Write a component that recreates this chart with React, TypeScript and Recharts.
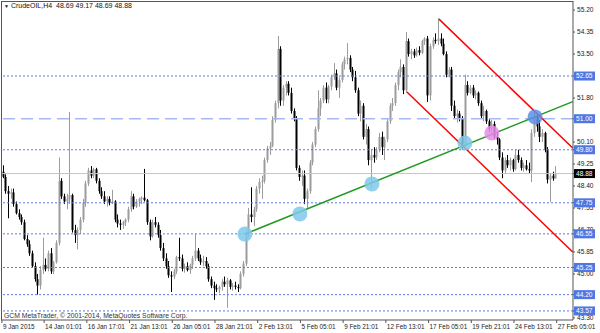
import React from 'react';
import {
  ComposedChart, Bar, XAxis, YAxis, ReferenceLine, ReferenceDot,
} from 'recharts';

// CrudeOIL H4 candles, 9 Jan - 27 Feb 2015
const openPrices = [
  48.95, 48.75, 48.2, 48.1, 48.15, 47.7, 47.35, 47.2, 47.0, 46.35, 46.15, 45.8, 45.3, 44.8, 44.55, 45.15, 45.35, 45.2, 45.8, 45.1,
  45.45, 46.2, 48.6, 48.0, 47.8, 47.9, 48.05, 46.7, 46.5, 46.7, 47.1, 47.75, 48.5, 49.0, 48.8, 49.05, 48.6, 48.2, 48.0, 47.8,
  47.9, 47.75, 47.8, 47.1, 46.95, 46.9, 47.0, 47.1, 47.5, 48.0, 47.6, 47.8, 47.9, 47.95, 47.85, 47.0, 46.45, 47.0, 46.9, 46.5,
  46.0, 45.6, 45.3, 44.95, 44.9, 45.1, 45.65, 45.6, 45.2, 45.3, 45.15, 45.35, 45.6, 45.9, 45.6, 45.45, 45.5, 45.3, 44.8, 44.55,
  44.45, 44.4, 44.5, 44.7, 44.6, 44.75, 44.5, 44.55, 44.5, 44.45, 45.0, 45.4, 46.55, 47.3, 47.2, 47.5, 48.3, 48.55, 48.6, 49.4,
  49.85, 49.95, 50.95, 51.6, 53.7, 51.7, 52.2, 52.35, 52.0, 51.3, 51.0, 49.1, 48.75, 48.8, 47.9, 48.2, 49.3, 50.0, 50.6, 51.4,
  51.7, 52.2, 51.75, 52.25, 52.6, 52.75, 52.2, 52.5, 53.1, 53.3, 53.35, 52.9, 52.6, 52.1, 51.2, 51.5, 50.3, 50.6, 49.4, 49.6,
  49.5, 49.8, 50.3, 49.9, 50.2, 50.9, 51.5, 51.6, 52.3, 52.8, 53.0, 52.1, 54.0, 53.5, 53.6, 53.45, 53.65, 53.55, 54.0, 54.1,
  51.9, 53.8, 54.05, 54.0, 54.1, 53.9, 53.5, 52.7, 52.9, 51.5, 51.1, 51.2, 51.0, 50.0, 52.3, 52.0, 52.2, 51.9, 52.0, 51.6,
  51.1, 51.3, 50.9, 50.6, 50.8, 50.3, 50.2, 49.5, 49.0, 49.4, 49.2, 49.4, 49.05, 49.6, 49.4, 49.1, 49.2, 49.05, 49.0, 50.45,
  51.1, 50.7, 50.3, 50.45, 49.8, 48.65, 48.8, 48.69,
];
const highPrices = [
  49.2, 48.85, 48.4, 48.3, 48.3, 47.8, 47.5, 47.3, 47.1, 46.5, 46.3, 45.9, 45.45, 45.0, 45.3, 46.4, 45.6, 45.9, 46.0, 45.5,
  46.3, 49.5, 48.7, 48.1, 48.1, 51.26, 48.1, 46.9, 46.8, 47.2, 47.9, 48.6, 49.1, 49.17, 49.1, 49.1, 48.7, 48.35, 48.2, 48.0,
  48.0, 48.25, 47.85, 47.3, 47.1, 47.05, 47.15, 47.6, 48.2, 48.1, 47.9, 47.95, 48.0, 49.06, 47.9, 47.1, 47.1, 47.2, 47.0, 46.7,
  46.2, 45.8, 45.5, 45.1, 45.2, 45.7, 46.4, 45.75, 45.4, 45.45, 45.4, 45.7, 46.55, 46.0, 45.75, 45.7, 45.65, 45.4, 44.9, 44.7,
  44.6, 44.55, 44.8, 44.9, 44.85, 44.8, 44.65, 44.7, 44.6, 45.1, 45.5, 46.65, 47.55, 48.35, 47.6, 48.4, 48.7, 48.8, 49.5, 49.95,
  50.1, 51.1, 51.7, 54.2, 53.8, 52.3, 52.45, 52.45, 52.2, 51.4, 51.1, 49.2, 49.0, 49.0, 48.3, 49.4, 50.1, 50.7, 52.1, 51.8,
  52.3, 52.4, 52.3, 52.7, 53.15, 52.9, 52.6, 53.2, 53.4, 53.92, 53.45, 53.0, 52.85, 52.2, 51.7, 51.6, 50.8, 50.7, 49.8, 49.9,
  49.9, 50.45, 50.5, 50.3, 51.0, 51.6, 51.8, 52.4, 52.9, 53.3, 53.1, 54.35, 54.1, 53.7, 53.7, 53.75, 53.8, 54.05, 54.15, 54.2,
  53.9, 54.15, 54.3, 54.89, 54.3, 54.1, 53.6, 53.0, 53.0, 51.7, 51.35, 51.3, 51.1, 52.7, 52.45, 52.3, 52.3, 52.1, 52.05, 51.7,
  51.5, 51.35, 51.0, 50.95, 50.9, 50.5, 50.25, 49.7, 49.5, 49.6, 49.5, 49.45, 49.8, 49.8, 49.5, 49.3, 49.4, 49.3, 50.6, 51.25,
  51.2, 50.95, 50.6, 50.5, 49.9, 48.9, 48.95, 49.17,
];
const lowPrices = [
  48.7, 48.1, 47.15, 47.9, 47.6, 47.3, 47.1, 46.9, 46.3, 46.05, 45.7, 45.25, 44.7, 44.2, 44.4, 45.0, 45.1, 45.1, 45.0, 45.0,
  45.4, 46.1, 47.9, 47.7, 47.5, 47.7, 46.6, 46.2, 45.95, 46.55, 47.0, 47.6, 48.4, 48.7, 48.7, 48.5, 48.1, 47.9, 47.7, 47.6,
  47.65, 47.7, 47.0, 46.8, 46.7, 46.75, 46.85, 47.0, 47.4, 47.5, 47.55, 47.6, 47.7, 47.8, 46.9, 46.3, 46.4, 46.8, 46.4, 45.9,
  45.5, 45.2, 44.85, 44.3, 44.8, 45.0, 45.5, 45.1, 45.05, 45.1, 45.0, 45.2, 45.5, 45.5, 45.35, 45.3, 45.2, 44.7, 44.45, 44.0,
  44.3, 44.25, 44.35, 44.5, 43.69, 44.4, 44.35, 44.4, 44.3, 44.4, 44.9, 45.3, 46.4, 47.0, 46.85, 47.4, 48.1, 47.9, 48.5, 49.3,
  49.6, 49.9, 50.85, 51.4, 51.5, 51.5, 51.9, 51.9, 51.2, 50.9, 49.0, 48.6, 48.4, 47.7, 47.55, 48.1, 49.2, 49.9, 50.5, 51.1,
  51.6, 51.6, 51.6, 52.1, 52.5, 52.1, 51.8, 52.4, 52.9, 53.1, 52.8, 52.45, 52.0, 51.1, 50.9, 50.2, 50.0, 49.2, 48.3, 49.3,
  49.4, 49.7, 49.6, 49.4, 50.1, 50.8, 51.3, 51.5, 52.1, 52.6, 51.95, 52.0, 53.4, 53.3, 53.35, 53.4, 53.45, 53.5, 53.85, 51.65,
  51.7, 53.7, 53.9, 53.85, 53.8, 53.45, 52.6, 52.6, 51.3, 51.0, 50.85, 50.9, 49.8, 49.9, 51.9, 51.95, 51.8, 51.75, 51.5, 51.0,
  50.9, 50.8, 50.5, 50.4, 50.2, 50.0, 49.4, 48.7, 48.9, 49.1, 49.0, 48.95, 49.0, 49.3, 49.0, 48.95, 49.0, 48.9, 48.55, 50.3,
  50.5, 50.1, 50.1, 49.7, 48.5, 47.78, 48.6, 48.69,
];
const closePrices = [
  48.75, 48.2, 48.1, 48.15, 47.7, 47.35, 47.2, 47.0, 46.35, 46.15, 45.8, 45.3, 44.8, 44.55, 45.15, 45.35, 45.2, 45.8, 45.1, 45.45,
  46.2, 48.6, 48.0, 47.8, 47.9, 48.05, 46.7, 46.5, 46.7, 47.1, 47.75, 48.5, 49.0, 48.8, 49.05, 48.6, 48.2, 48.0, 47.8, 47.9,
  47.75, 47.8, 47.1, 46.95, 46.9, 47.0, 47.1, 47.5, 48.0, 47.6, 47.8, 47.9, 47.95, 47.85, 47.0, 46.45, 47.0, 46.9, 46.5, 46.0,
  45.6, 45.3, 44.95, 44.9, 45.1, 45.65, 45.6, 45.2, 45.3, 45.15, 45.35, 45.6, 45.9, 45.6, 45.45, 45.5, 45.3, 44.8, 44.55, 44.45,
  44.4, 44.5, 44.7, 44.6, 44.75, 44.5, 44.55, 44.5, 44.45, 45.0, 45.4, 46.55, 47.3, 47.2, 47.5, 48.3, 48.55, 48.6, 49.4, 49.85,
  49.95, 50.95, 51.6, 53.7, 51.7, 52.2, 52.35, 52.0, 51.3, 51.0, 49.1, 48.75, 48.8, 47.9, 48.2, 49.3, 50.0, 50.6, 51.4, 51.7,
  52.2, 51.75, 52.25, 52.6, 52.75, 52.2, 52.5, 53.1, 53.3, 53.35, 52.9, 52.6, 52.1, 51.2, 51.5, 50.3, 50.6, 49.4, 49.6, 49.5,
  49.8, 50.3, 49.9, 50.2, 50.9, 51.5, 51.6, 52.3, 52.8, 53.0, 52.1, 54.0, 53.5, 53.6, 53.45, 53.65, 53.55, 54.0, 54.1, 51.9,
  53.8, 54.05, 54.0, 54.1, 53.9, 53.5, 52.7, 52.9, 51.5, 51.1, 51.2, 51.0, 50.0, 52.3, 52.0, 52.2, 51.9, 52.0, 51.6, 51.1,
  51.3, 50.9, 50.6, 50.8, 50.3, 50.2, 49.5, 49.0, 49.4, 49.2, 49.4, 49.05, 49.6, 49.4, 49.1, 49.2, 49.05, 49.0, 50.45, 51.1,
  50.7, 50.3, 50.45, 49.8, 48.65, 48.8, 48.69, 48.88,
];

const xTickBars = [-0.4, 15.4, 31.4, 47.4, 63.4, 79.4, 95.4, 111.4, 127.4, 143.4, 159.4, 175.4, 191.4, 207.4];
const xTickLabels = [
  '9 Jan 2015', '14 Jan 01:01', '16 Jan 17:01', '21 Jan 13:01', '26 Jan 05:01', '28 Jan 21:01', '2 Feb 13:01',
  '5 Feb 05:01', '9 Feb 21:01', '12 Feb 13:01', '17 Feb 05:01', '19 Feb 21:01', '24 Feb 13:01', '27 Feb 05:01',
];
const yTicks = [55.2, 54.35, 53.5, 51.8, 50.1, 49.25, 48.4, 47.55, 46.7, 45.85, 45.0, 43.3];

// horizontal levels: dotted ones and the dashed one at 51.00
const dottedLevels = [52.65, 49.8, 47.75, 46.55, 45.25, 44.2, 43.57];
const dashedLevel = 51.0;
const bidPrice = 48.88;
const tagLevels = [...dottedLevels, dashedLevel];

// trend lines [barFrom, priceFrom, barTo, priceTo]
const greenLine = [90.6, 46.54, 213.4, 51.66];
const redUpper = [163.3, 54.85, 213.4, 49.87];
const redLower = [151.3, 52.03, 213.4, 45.85];

// touch points on the trend lines
const circleBars = [90.6, 111.2, 138.2, 173.0, 183.1, 199.3];
const circlePrices = [46.54, 47.32, 48.48, 50.06, 50.45, 51.07];
const circleColors = ['#7ec9ea', '#7ec9ea', '#7ec9ea', '#7ec9ea', '#e98be9', '#5f8fe8'];

const data = closePrices.map((close, i) => ({
  i,
  open: openPrices[i],
  high: highPrices[i],
  low: lowPrices[i],
  close,
  range: [lowPrices[i], highPrices[i]],
}));

const FONT = '"Liberation Sans", Arial, sans-serif';

const Candle = (props: any) => {
  const { x, y, width, height, payload } = props;
  if (!payload) return null;
  const { open, close, high, low } = payload;
  const top = Math.min(y, y + height);
  const h = Math.abs(height);
  const k = h / (high - low || 1);
  const cx = Math.round(x + width / 2) + 0.5;
  const up = close >= open;
  const color = up ? '#9c9c9c' : '#000';
  const bTop = top + (high - Math.max(open, close)) * k;
  const bBot = top + (high - Math.min(open, close)) * k;
  return (
    <g>
      <line x1={cx} x2={cx} y1={top} y2={top + h} stroke={color} strokeWidth={1} />
      <rect x={cx - 1} y={bTop} width={2} height={Math.max(1, bBot - bTop)} fill={color} />
    </g>
  );
};

// price axis: plain ticks first, coloured price tags last so they paint on top
const YTick = (props: any) => {
  const { x, y, payload } = props;
  const v = payload.value as number;
  const axisX = x - 4;
  const isBid = v === bidPrice;
  const isTag = tagLevels.includes(v);
  if (isBid || isTag) {
    return (
      <g>
        <rect x={axisX + 1} y={y - 4.5} width={21} height={9} fill={isBid ? '#000' : '#5076e4'} />
        <text x={axisX + 3} y={y} dy="0.35em" fontSize={6.6} fontFamily={FONT} fill="#fff">{v.toFixed(2)}</text>
      </g>
    );
  }
  return (
    <text x={x} y={y} dy="0.35em" fontSize={6.6} fontFamily={FONT} fill="#222" textAnchor="start">
      {v.toFixed(2)}
    </text>
  );
};

const XTick = (props: any) => {
  const { x, y, index } = props;
  return (
    <text x={x + 1} y={y} dy="0.71em" fontSize={6.4} fontFamily={FONT} fill="#222" textAnchor="start">
      {xTickLabels[index]}
    </text>
  );
};

export default function App() {
  return (
    <div style={{ position: 'absolute', left: 0, top: 0, width: 600, height: 333, background: '#fff' }}>
      <ComposedChart width={600} height={333} data={data} margin={{ top: 1, right: 0, left: 1, bottom: 0 }}>
        <XAxis
          dataKey="i"
          type="number"
          domain={[-0.75, 213.5]}
          allowDataOverflow
          ticks={xTickBars}
          interval={0}
          height={13}
          tick={<XTick />}
          tickSize={3}
          tickMargin={1}
          stroke="#555"
        />
        <YAxis
          orientation="right"
          type="number"
          domain={[43.22, 55.55]}
          allowDataOverflow
          ticks={[...yTicks, bidPrice, ...tagLevels]}
          interval={0}
          width={27}
          tickSize={2}
          tickMargin={2}
          tick={<YTick />}
          stroke="#555"
        />
        <ReferenceLine y={bidPrice} stroke="#c4c4c4" />
        {dottedLevels.map((p) => (
          <ReferenceLine key={p} y={p} stroke="#5b7be3" strokeDasharray="2 2" />
        ))}
        <ReferenceLine y={dashedLevel} stroke="#a5b8f0" strokeWidth={1.5} strokeDasharray="12 6" />
        <Bar dataKey="range" barSize={2} shape={<Candle />} isAnimationActive={false} />
        {circleBars.map((b, k) => (
          <ReferenceDot key={k} x={b} y={circlePrices[k]} r={7.5} fill={circleColors[k]} fillOpacity={0.85} stroke="none" />
        ))}
        <ReferenceLine
          segment={[{ x: greenLine[0], y: greenLine[1] }, { x: greenLine[2], y: greenLine[3] }]}
          stroke="#1f9a1f"
          strokeWidth={1.5}
        />
        <ReferenceLine
          segment={[{ x: redUpper[0], y: redUpper[1] }, { x: redUpper[2], y: redUpper[3] }]}
          stroke="#ff0000"
          strokeWidth={1.5}
        />
        <ReferenceLine
          segment={[{ x: redLower[0], y: redLower[1] }, { x: redLower[2], y: redLower[3] }]}
          stroke="#ff0000"
          strokeWidth={1.5}
        />
      </ComposedChart>
      <div style={{ position: 'absolute', left: 1, top: 1, width: 572, height: 319, borderLeft: '1px solid #555', borderTop: '1px solid #555', boxSizing: 'border-box', pointerEvents: 'none' }} />
      <div style={{ position: 'absolute', left: 4, top: 2, fontFamily: FONT, fontSize: 7, color: '#111', whiteSpace: 'nowrap' }}>
        <span style={{ fontSize: 5 }}>▼</span> CrudeOIL,H4&nbsp; 48.69 49.17 48.69 48.88
      </div>
      <div style={{ position: 'absolute', left: 4, top: 312, fontFamily: FONT, fontSize: 6.8, color: '#333', whiteSpace: 'nowrap' }}>
        GCM MetaTrader, © 2001-2014, MetaQuotes Software Corp.
      </div>
    </div>
  );
}
